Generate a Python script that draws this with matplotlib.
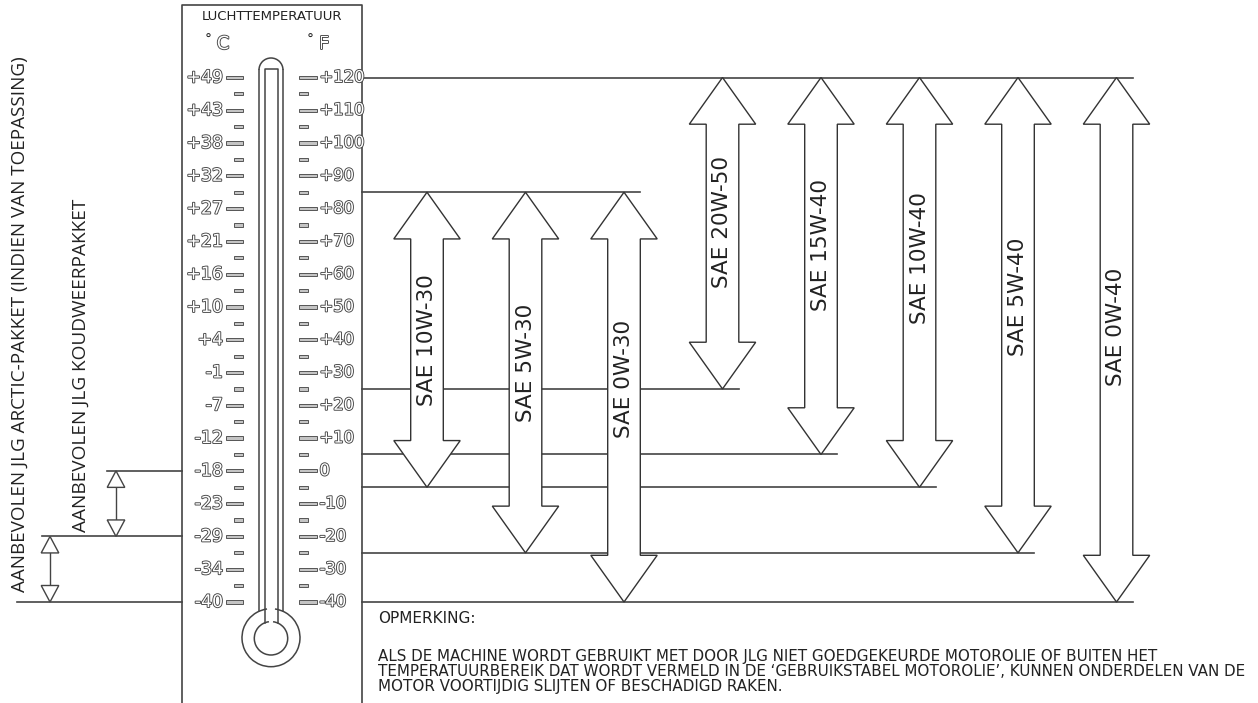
import matplotlib
matplotlib.use('Agg')
import matplotlib.pyplot as plt
from matplotlib.patches import Polygon, Arc, Rectangle
import matplotlib.patheffects as pe

# ---------------- data ----------------
grades = ['SAE 10W-30', 'SAE 5W-30', 'SAE 0W-30', 'SAE 20W-50',
          'SAE 15W-40', 'SAE 10W-40', 'SAE 5W-40', 'SAE 0W-40']
grade_low_f = [-5, -25, -40, 25, 5, -5, -25, -40]
grade_high_f = [85, 85, 85, 120, 120, 120, 120, 120]

fahrenheit_ticks = [120, 110, 100, 90, 80, 70, 60, 50, 40, 30, 20, 10, 0, -10, -20, -30, -40]
fahrenheit_labels = ['+120', '+110', '+100', '+90', '+80', '+70', '+60', '+50', '+40',
                     '+30', '+20', '+10', '0', '-10', '-20', '-30', '-40']
celsius_labels = ['+49', '+43', '+38', '+32', '+27', '+21', '+16', '+10', '+4',
                  '-1', '-7', '-12', '-18', '-23', '-29', '-34', '-40']

kits = ['AANBEVOLEN JLG ARCTIC-PAKKET (INDIEN VAN TOEPASSING)',
        'AANBEVOLEN JLG KOUDWEERPAKKET']
kit_low_f = [-40, -20]
kit_high_f = [-20, 0]

title_text = 'LUCHTTEMPERATUUR'
note_title = 'OPMERKING:'
note_lines = ['ALS DE MACHINE WORDT GEBRUIKT MET DOOR JLG NIET GOEDGEKEURDE MOTOROLIE OF BUITEN HET',
              'TEMPERATUURBEREIK DAT WORDT VERMELD IN DE \u2018GEBRUIKSTABEL MOTOROLIE\u2019, KUNNEN ONDERDELEN VAN DE',
              'MOTOR VOORTIJDIG SLIJTEN OF BESCHADIGD RAKEN.']

# ---------------- layout ----------------
W, H = 1258, 703
Y_TOP_PX, Y_BOT_PX = 77.5, 602.0
scale = (Y_BOT_PX - Y_TOP_PX) / (fahrenheit_ticks[0] - fahrenheit_ticks[-1])

fig = plt.figure(figsize=(W / 100, H / 100), dpi=100)
ax = fig.add_axes([0, 0, 1, 1])
ax.set_xlim(0, W)
ax.set_ylim(fahrenheit_ticks[-1] - (H - Y_BOT_PX) / scale,
            fahrenheit_ticks[0] + Y_TOP_PX / scale)
ax.axis('off')


def fy(py):
    """pixel row -> degrees F on the axis"""
    return fahrenheit_ticks[0] - (py - Y_TOP_PX) / scale


LC = '#444444'
TXT = '#222222'
outline = [pe.withStroke(linewidth=1.3, foreground='#444444')]

# ---- thermometer panel ----
PL, PR = 182, 362
ax.plot([PL, PL, PR, PR], [fy(H + 2), fy(4.5), fy(4.5), fy(H + 2)], color=LC, lw=1.2, zorder=2)
ax.text((PL + PR) / 2, fy(17), title_text, ha='center', va='center', fontsize=9.5, color=TXT)
ax.text(208, fy(40), '\u00b0', ha='center', va='center', fontsize=10, color=TXT)
ax.text(223, fy(44), 'C', ha='center', va='center', fontsize=13, color='white',
        path_effects=outline)
ax.text(310, fy(40), '\u00b0', ha='center', va='center', fontsize=10, color=TXT)
ax.text(324, fy(44), 'F', ha='center', va='center', fontsize=13, color='white',
        path_effects=outline)

th = 3.2 / scale
for t, cl, fl in zip(fahrenheit_ticks, celsius_labels, fahrenheit_labels):
    ax.add_patch(Rectangle((226, t - th / 2), 17, th, fc='#c4c4c4', ec='#555555', lw=0.7, zorder=3))
    ax.add_patch(Rectangle((299, t - th / 2), 18, th, fc='#c4c4c4', ec='#555555', lw=0.7, zorder=3))
    ax.text(223, t, cl, ha='right', va='center', fontsize=12.5, color='white',
            path_effects=outline, zorder=4)
    ax.text(319.5, t, fl, ha='left', va='center', fontsize=11.8, color='white',
            path_effects=outline, zorder=4)
for a, b in zip(fahrenheit_ticks[:-1], fahrenheit_ticks[1:]):
    m = (a + b) / 2
    ax.add_patch(Rectangle((234, m - th / 2), 9, th, fc='#c4c4c4', ec='#555555', lw=0.7, zorder=3))
    ax.add_patch(Rectangle((299, m - th / 2), 9, th, fc='#c4c4c4', ec='#555555', lw=0.7, zorder=3))

# thermometer tube and bulb
TC = 271
ax.plot([259, 259], [fy(70), fy(611.4)], color=LC, lw=1.1)
ax.plot([283, 283], [fy(70), fy(611.4)], color=LC, lw=1.1)
ax.add_patch(Arc((TC, fy(70)), 24, 24 / scale, theta1=0, theta2=180, color=LC, lw=1.1))
ax.plot([265, 265, 277.5, 277.5], [fy(622.6), fy(69), fy(69), fy(622.6)], color=LC, lw=1.1)
ax.add_patch(Arc((TC, fy(637.7)), 58, 58 / scale, theta1=114.4, theta2=425.6, color=LC, lw=1.1))
ax.add_patch(Arc((TC, fy(638.3)), 33.4, 33.4 / scale, theta1=112.2, theta2=427.8, color=LC, lw=1.1))

# ---- SAE grade arrows ----
X0, DX = 427, 98.5
SW, HW = 16.3, 33.2
HL = 46.7 / scale
xs = [X0 + DX * i for i in range(len(grades))]

# reference lines: each endpoint value extends to the rightmost arrow using it
ends = {}
for x, lo, hi in zip(xs, grade_low_f, grade_high_f):
    for v in (lo, hi):
        ends[v] = max(ends.get(v, 0), x + SW)
for v, xe in ends.items():
    ax.plot([PR, xe], [v, v], color=LC, lw=1.2, zorder=1)

label_pos = [40, 33, 28, 76, 69, 65, 53, 44]
for x, lo, hi, name, lp in zip(xs, grade_low_f, grade_high_f, grades, label_pos):
    verts = [(x, hi), (x + HW, hi - HL), (x + SW, hi - HL), (x + SW, lo + HL),
             (x + HW, lo + HL), (x, lo), (x - HW, lo + HL), (x - SW, lo + HL),
             (x - SW, hi - HL), (x - HW, hi - HL)]
    ax.add_patch(Polygon(verts, closed=True, fc='white', ec='#333333', lw=1.0, zorder=3))
    ax.text(x, lp, name, rotation=90, ha='center', va='center', fontsize=15.5,
            color=TXT, zorder=4)

# ---- kit arrows on the left ----
kit_x = [50, 116]
kit_text_x = [19.5, 80.5]
kit_line_start = [17, 42, 107]
khw = 8.8
khl = 16.5 / scale
for x, lo, hi in zip(kit_x, kit_low_f, kit_high_f):
    ax.add_patch(Polygon([(x, hi), (x + khw, hi - khl), (x - khw, hi - khl)], closed=True,
                         fc='white', ec=LC, lw=1.0, zorder=3))
    ax.add_patch(Polygon([(x, lo), (x + khw, lo + khl), (x - khw, lo + khl)], closed=True,
                         fc='white', ec=LC, lw=1.0, zorder=3))
    ax.plot([x, x], [lo + khl, hi - khl], color=LC, lw=1.0, zorder=2)
kit_levels = sorted(set(kit_low_f + kit_high_f))
for v, xs0 in zip(kit_levels, kit_line_start):
    ax.plot([xs0, PL], [v, v], color=LC, lw=1.2, zorder=1)

ax.text(kit_text_x[0], fy(324.5), kits[0], rotation=90, ha='center', va='center',
        fontsize=13.6, color=TXT, family='Open Sans')
ax.text(kit_text_x[1], fy(365), kits[1], rotation=90, ha='center', va='center',
        fontsize=13.7, color=TXT, family='Open Sans')

# ---- note ----
ax.text(378, fy(618.5), note_title, ha='left', va='center', fontsize=11, color=TXT)
for py, line in zip([656, 671, 686], note_lines):
    ax.text(378, fy(py), line, ha='left', va='center', fontsize=10.9, color=TXT)

fig.savefig('out.png', dpi=100)
